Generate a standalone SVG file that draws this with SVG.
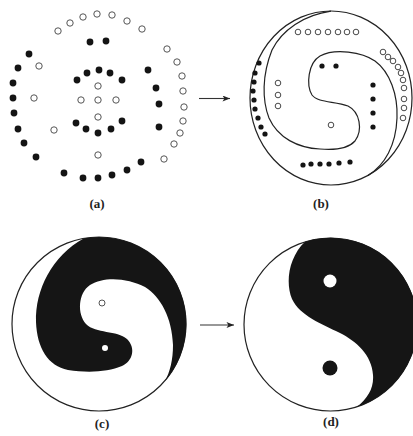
<svg xmlns="http://www.w3.org/2000/svg" width="413" height="436" viewBox="0 0 413 436">
<style>
.f{fill:#141414}
.o{fill:#fff;stroke:#555;stroke-width:1}
.fb{fill:#141414}
.ob{fill:#fff;stroke:#333;stroke-width:0.9}
.ln{fill:none;stroke:#222;stroke-width:1.2}
.blk{fill:#151515}
.lbl{font-family:"Liberation Serif",serif;font-weight:bold;font-size:13px;fill:#222;text-anchor:middle}
.ar{stroke:#333;stroke-width:1.1;fill:none}
</style>
<defs>
<marker id="ah" viewBox="0 0 10 8" refX="10" refY="4" markerWidth="8" markerHeight="6" markerUnits="userSpaceOnUse" orient="auto">
<path d="M0,0 L10,4 L0,8 L2.5,4 Z" fill="#222"/>
</marker>
</defs>
<rect width="413" height="436" fill="#fff"/>

<g id="panel-a">
<g class="o">
<circle cx="58" cy="31" r="3.2"/><circle cx="70" cy="23" r="3.2"/><circle cx="83" cy="17" r="3.2"/><circle cx="97" cy="14" r="3.2"/><circle cx="112" cy="15" r="3.2"/><circle cx="127" cy="21" r="3.2"/><circle cx="142" cy="29" r="3.2"/>
<circle cx="39" cy="66" r="3.2"/><circle cx="34" cy="98" r="3.2"/><circle cx="54" cy="130" r="3.2"/>
<circle cx="98" cy="86" r="3.2"/><circle cx="81" cy="100" r="3.2"/><circle cx="98" cy="100" r="3.2"/><circle cx="116" cy="100" r="3.2"/><circle cx="98" cy="117" r="3.2"/><circle cx="98" cy="155" r="3.2"/>
<circle cx="167" cy="49" r="3.2"/><circle cx="177" cy="62" r="3.2"/><circle cx="182" cy="76" r="3.2"/><circle cx="183" cy="91" r="3.2"/><circle cx="184" cy="107" r="3.2"/><circle cx="183" cy="121" r="3.2"/><circle cx="180" cy="133" r="3.2"/><circle cx="174" cy="144" r="3.2"/><circle cx="164" cy="159" r="3.2"/>
</g>
<g class="f">
<circle cx="90" cy="42" r="3.4"/><circle cx="106" cy="41" r="3.4"/>
<circle cx="29" cy="54" r="3.4"/><circle cx="18" cy="68" r="3.4"/><circle cx="13" cy="83" r="3.4"/><circle cx="13" cy="98" r="3.4"/><circle cx="14" cy="113" r="3.4"/><circle cx="18" cy="129" r="3.4"/><circle cx="24" cy="143" r="3.4"/><circle cx="36" cy="157" r="3.4"/>
<circle cx="77" cy="80" r="3.4"/><circle cx="87" cy="73" r="3.4"/><circle cx="99" cy="70" r="3.4"/><circle cx="110" cy="73" r="3.4"/><circle cx="122" cy="80" r="3.4"/>
<circle cx="76" cy="123" r="3.4"/><circle cx="86" cy="129" r="3.4"/><circle cx="98" cy="133" r="3.4"/><circle cx="111" cy="129" r="3.4"/><circle cx="122" cy="121" r="3.4"/>
<circle cx="148" cy="70" r="3.4"/><circle cx="156" cy="88" r="3.4"/><circle cx="159" cy="104" r="3.4"/><circle cx="159" cy="127" r="3.4"/>
<circle cx="64" cy="173" r="3.4"/><circle cx="83" cy="178" r="3.4"/><circle cx="98" cy="178" r="3.4"/><circle cx="112" cy="175" r="3.4"/><circle cx="127" cy="170" r="3.4"/><circle cx="141" cy="162" r="3.4"/>
</g>
<text class="lbl" x="97" y="208">(a)</text>
</g>

<g id="panel-b">
<ellipse class="ln" cx="331" cy="98" rx="81" ry="87"/>
<path class="ln" d="M368,175.4 C385,165 396,145 397,118 C398,95 390,72 375,61 C362,52 335,48 320,56 C308,63 306,85 312,95 C318,103 335,101 348,106 C360,112 363,130 355,141 C347,150 332,150 320,149 C298,148 278,138 269,118 C262,100 262,75 272,50 C282,30 304,15 331,11.2"/>
<g class="ob">
<circle cx="298" cy="32" r="2.8"/><circle cx="308" cy="32" r="2.8"/><circle cx="318" cy="32" r="2.8"/><circle cx="328" cy="32" r="2.8"/><circle cx="338" cy="32" r="2.8"/><circle cx="347" cy="32" r="2.8"/><circle cx="356" cy="32" r="2.8"/>
<circle cx="383" cy="52" r="2.8"/><circle cx="388" cy="57" r="2.8"/><circle cx="393" cy="61" r="2.8"/><circle cx="398" cy="67" r="2.8"/><circle cx="401" cy="73" r="2.8"/><circle cx="403" cy="80" r="2.8"/><circle cx="404" cy="88" r="2.8"/><circle cx="404" cy="99" r="2.8"/><circle cx="404" cy="108" r="2.8"/><circle cx="403" cy="118" r="2.8"/>
<circle cx="278" cy="83" r="2.8"/><circle cx="278" cy="95" r="2.8"/><circle cx="278" cy="106" r="2.8"/>
<circle cx="331" cy="125" r="2.8"/>
</g>
<g class="fb">
<circle cx="259" cy="63" r="2.6"/><circle cx="255" cy="73" r="2.6"/><circle cx="254" cy="82" r="2.6"/><circle cx="253" cy="91" r="2.6"/><circle cx="254" cy="100" r="2.6"/><circle cx="255" cy="109" r="2.6"/><circle cx="258" cy="118" r="2.6"/><circle cx="261" cy="127" r="2.6"/><circle cx="265" cy="134" r="2.6"/>
<circle cx="322" cy="66" r="2.6"/><circle cx="336" cy="66" r="2.6"/>
<circle cx="373" cy="85" r="2.6"/><circle cx="373" cy="99" r="2.6"/><circle cx="373" cy="113" r="2.6"/><circle cx="373" cy="127" r="2.6"/>
<circle cx="303" cy="165" r="2.6"/><circle cx="311" cy="164" r="2.6"/><circle cx="320" cy="164" r="2.6"/><circle cx="329" cy="164" r="2.6"/><circle cx="339" cy="163" r="2.6"/><circle cx="350" cy="162" r="2.6"/>
</g>
<text class="lbl" x="321" y="208">(b)</text>
</g>

<g id="panel-c">
<circle class="ln" cx="99" cy="324" r="87"/>
<path class="blk" d="M84,238.3 A87,87 0 0 1 165,381 C170,372 173,360 173,345 C172,318 161,297 145,287 C128,278 104,276 90,285 C78,293 77,314 86,324 C96,334 117,330 127,339 C136,348 133,361 122,366 C108,372 88,373 68,370 C48,366 37,348 36,322 C35,290 52,256 84,238.3 Z"/>
<circle cx="102" cy="303" r="3" fill="#fff" stroke="#555" stroke-width="1"/>
<circle cx="105" cy="348" r="3" fill="#fff"/>
<text class="lbl" x="102" y="428">(c)</text>
</g>

<g id="panel-d">
<circle class="ln" cx="330.5" cy="324.5" r="86.5"/>
<path class="blk" d="M305,241.8 A86.5,86.5 0 0 1 357,406.8 C368,398 374,388 373,375 C372,355 356,341 340,333 C322,324 300,316 292,299 C285,282 289,257 305,241.8 Z"/>
<circle cx="330" cy="281" r="6.5" fill="#fff"/>
<circle cx="330" cy="368" r="7.5" fill="#151515"/>
<text class="lbl" x="331" y="426">(d)</text>
</g>

<g id="connectors">
<line class="ar" x1="199" y1="98.5" x2="230" y2="98.5" marker-end="url(#ah)"/>
<line class="ar" x1="200" y1="325" x2="234" y2="325" marker-end="url(#ah)"/>
</g>
</svg>
